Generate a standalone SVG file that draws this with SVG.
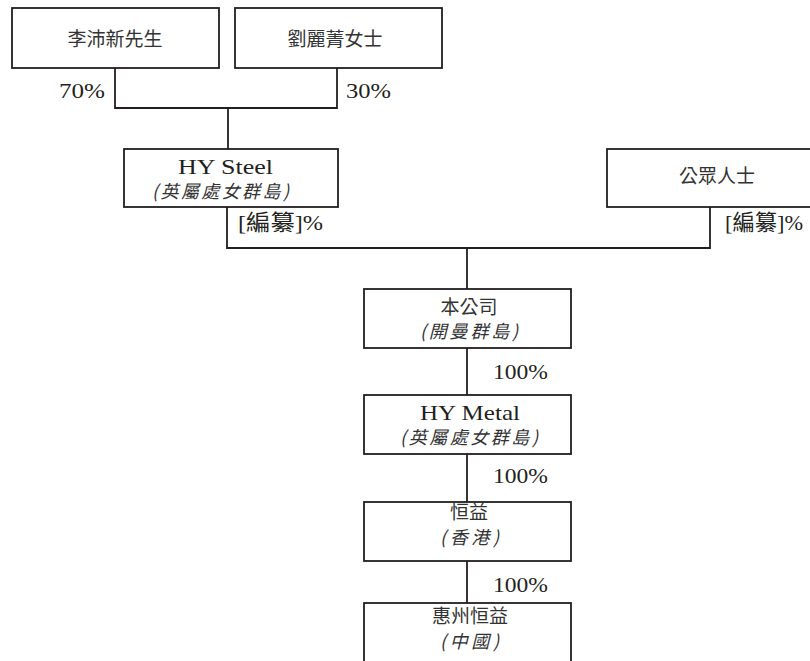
<svg xmlns="http://www.w3.org/2000/svg" width="810" height="661" viewBox="0 0 810 661">
<style>
.box{fill:#fff;stroke:#231f20;stroke-width:1.8}
.ln{fill:none;stroke:#231f20;stroke-width:1.8}
.cjk{font-family:"Noto Sans CJK TC","Noto Sans CJK SC",sans-serif;font-size:19px;fill:#333;text-anchor:middle}
.sub{font-family:"Noto Sans CJK TC","Noto Sans CJK SC",sans-serif;font-size:18px;fill:#333;font-style:italic}
.lat{font-family:"Liberation Serif","Noto Sans CJK TC",serif;font-size:22px;fill:#231f20}
</style>
<rect width="810" height="661" fill="#fff"/>
<g id="connectors">
<path class="ln" d="M115,68 V108 H337 V68"/>
<path class="ln" d="M228,108 V149"/>
<path class="ln" d="M227,207 V248 H710 V207"/>
<path class="ln" d="M467,248 V289"/>
<path class="ln" d="M467,348 V395"/>
<path class="ln" d="M467,454 V502"/>
<path class="ln" d="M467,561 V603"/>
</g>
<g id="node-li">
<rect class="box" x="12" y="8" width="207" height="60"/>
<text class="cjk" x="115" y="46">李沛新先生</text>
</g>
<g id="node-lau">
<rect class="box" x="235" y="8" width="207" height="60"/>
<text class="cjk" x="335" y="46">劉麗菁女士</text>
</g>
<g id="labels-top">
<text class="lat" x="59" y="98" textLength="46" lengthAdjust="spacingAndGlyphs">70%</text>
<text class="lat" x="346" y="98" textLength="45" lengthAdjust="spacingAndGlyphs">30%</text>
</g>
<g id="node-hysteel">
<rect class="box" x="124" y="149" width="214" height="58"/>
<text class="lat" x="178" y="174" textLength="95" lengthAdjust="spacingAndGlyphs">HY Steel</text>
<text class="sub" x="152" y="198" textLength="137" lengthAdjust="spacing">(英屬處女群島)</text>
</g>
<g id="node-public">
<rect class="box" x="607" y="149" width="220" height="58"/>
<text class="cjk" x="717" y="183">公眾人士</text>
</g>
<g id="labels-mid">
<text class="lat" x="238" y="230" textLength="85" lengthAdjust="spacingAndGlyphs">[編纂]%</text>
<text class="lat" x="725" y="230" textLength="78" lengthAdjust="spacingAndGlyphs">[編纂]%</text>
</g>
<g id="node-company">
<rect class="box" x="364" y="289" width="207" height="59"/>
<text class="cjk" x="469" y="314">本公司</text>
<text class="sub" x="420" y="338" textLength="98" lengthAdjust="spacing">(開曼群島)</text>
</g>
<text class="lat" x="493" y="379" textLength="55" lengthAdjust="spacingAndGlyphs">100%</text>
<g id="node-hymetal">
<rect class="box" x="364" y="395" width="207" height="59"/>
<text class="lat" x="420" y="420" textLength="100" lengthAdjust="spacingAndGlyphs">HY Metal</text>
<text class="sub" x="400" y="444" textLength="138" lengthAdjust="spacing">(英屬處女群島)</text>
</g>
<text class="lat" x="493" y="483" textLength="55" lengthAdjust="spacingAndGlyphs">100%</text>
<g id="node-hengyi">
<rect class="box" x="364" y="502" width="207" height="59"/>
<text class="cjk" x="469" y="519">恒益</text>
<text class="sub" x="440" y="544" textLength="59" lengthAdjust="spacing">(香港)</text>
</g>
<text class="lat" x="493" y="592" textLength="55" lengthAdjust="spacingAndGlyphs">100%</text>
<g id="node-huizhou">
<rect class="box" x="364" y="603" width="207" height="80"/>
<text class="cjk" x="470" y="623">惠州恒益</text>
<text class="sub" x="440" y="648" textLength="59" lengthAdjust="spacing">(中國)</text>
</g>
</svg>
